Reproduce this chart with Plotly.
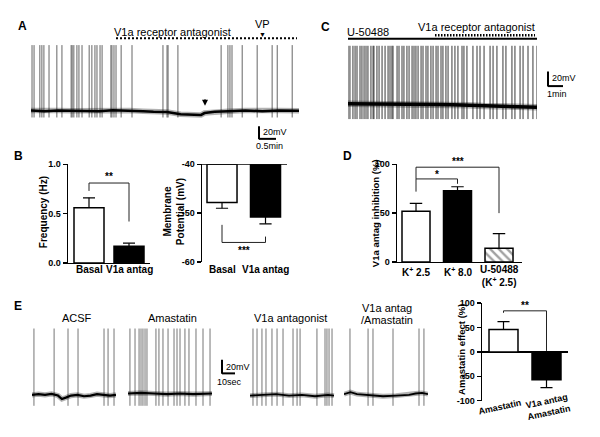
import plotly.graph_objects as go

W, H = 600, 437
def PX(x): return x / W
def PY(y): return 1 - y / H

FONT = "Liberation Sans, Arial, sans-serif"

# ---------------- data ----------------
# Panel A trace: spike times (min) and baseline (min, mV)
a_spike_times = [0.03, 0.09, 0.26, 0.32, 0.38, 0.53, 0.76, 0.91, 1.18, 1.21, 1.26, 1.35,
                 1.41, 1.50, 1.71, 1.79, 1.88, 1.94, 2.03, 2.09, 2.35, 2.38, 2.44, 2.50,
                 2.65, 2.97, 3.88, 4.00, 4.03, 4.32, 5.59, 5.79, 5.85, 5.91, 6.21, 6.65,
                 7.09, 7.24, 7.68]
a_spike_peak, a_spike_trough = 53, -61
a_base_t = [0, 0.4, 0.8, 1.2, 1.6, 2.0, 2.4, 2.9, 3.3, 3.6, 4.0, 4.4, 4.7, 5.0, 5.1,
            5.4, 5.8, 6.3, 6.8, 7.3, 7.88]
a_base_v = [-50, -51, -50, -50.5, -50, -51, -49.5, -50, -51, -52, -52.5, -56, -57, -57,
            -54, -52, -51, -50, -51, -50, -50.5]
a_duration = 7.88

# Panel C trace
c_spike_times = [0.0, 0.13, 0.33, 0.47, 0.6, 0.8, 0.93, 1.07, 1.2, 1.33, 1.53, 1.67, 1.73,
                 1.93, 2.07, 2.27, 2.47, 2.67, 2.8, 2.93, 3.0, 3.27, 3.4, 3.6, 3.73, 3.93,
                 4.07, 4.27, 4.4, 4.53, 4.67, 4.87, 5.0, 5.2, 5.33, 5.53, 5.67, 5.87, 6.0,
                 6.2, 6.33, 6.53, 6.67, 6.93, 7.13, 7.33, 7.6, 7.73, 7.93, 8.33, 8.6, 8.8,
                 9.07, 9.47, 9.67, 9.93, 10.33, 10.53, 10.93, 11.13, 11.47, 11.67, 12.0,
                 12.33, 12.6]
c_spike_peak, c_spike_trough = 29, -71
c_base_t = [0, 2, 4, 5, 6, 7, 8, 9, 10, 11, 12, 12.6]
c_base_v = [-50, -50, -50.5, -50.5, -51, -51.5, -52, -53, -54, -54.5, -55, -55]
c_duration = 12.6

# Panel E traces (s, mV)
e_duration = 64.6
e_spike_peak, e_spike_trough = 47, -66
e_acsf_spikes = [1.5, 17.0, 27.7, 35.4, 55.4, 58.5, 63.1]
e_acsf_t = [0, 5, 10, 15, 20, 23, 26, 30, 35, 40, 45, 50, 55, 60, 64.6]
e_acsf_v = [-50, -49, -50, -48.5, -51, -56, -54, -51, -50, -52, -51, -49, -50, -51, -50]
e_ama_spikes = [1.5, 5.4, 8.5, 10.0, 11.5, 13.1, 14.6, 21.5, 23.8, 26.9, 30.8, 35.4, 37.7,
                40.0, 43.8, 46.9, 52.3, 57.7, 63.1]
e_ama_t = [0, 10, 20, 30, 40, 50, 64.6]
e_ama_v = [-48, -47, -48, -49, -48, -49, -48]
e_v1a_spikes = [2.3, 5.4, 9.2, 12.3, 16.9, 20.8, 25.4, 33.1, 36.2, 38.5, 51.5, 57.7, 59.2,
                60.8, 63.1]
e_v1a_t = [0, 10, 20, 30, 40, 50, 60, 64.6]
e_v1a_v = [-51, -50, -49, -51, -50, -52, -50, -51]
e_both_spikes = [4.6, 18.5, 22.3, 37.7, 57.7, 61.5]
e_both_t = [0, 5, 10, 20, 30, 40, 50, 55, 60, 64.6]
e_both_v = [-49, -46, -49, -51, -52, -51, -50, -48, -47, -49]

# Panel B bars
b_labels = ["Basal", "V1a antag"]
b_freq = [0.56, 0.17]
b_freq_err = [0.10, 0.03]
b_vm = [-47.8, -50.8]
b_vm_err = [1.2, 1.4]

# Panel D bars
d_labels = ["K<sup>+</sup> 2.5", "K<sup>+</sup> 8.0", "U-50488<br>(K<sup>+</sup> 2.5)"]
d_vals = [52, 73, 14]
d_err = [8, 4, 15]

# Panel E bars
e_labels = ["Amastatin", "V1a antag<br>Amastatin"]
e_vals = [46, -57]
e_err = [16, 16]

# ---------------- helpers ----------------
def spike_xy(times, lo, hi):
    xs, ys = [], []
    for t in times:
        xs += [t, t, None]
        ys += [lo, hi, None]
    return xs, ys

fig = go.Figure()

def add_trace_panel(ax, spikes, lo, hi, bt, bv, spike_col, base_w):
    sx, sy = spike_xy(spikes, lo, hi)
    fig.add_trace(go.Scatter(x=sx, y=sy, mode="lines", xaxis="x" + ax, yaxis="y" + ax,
                             line=dict(color=spike_col, width=0.9), hoverinfo="skip"))
    fig.add_trace(go.Scatter(x=bt, y=bv, mode="lines", xaxis="x" + ax, yaxis="y" + ax,
                             line=dict(color="rgba(0,0,0,0.3)", width=base_w + 3),
                             hoverinfo="skip"))
    fig.add_trace(go.Scatter(x=bt, y=bv, mode="lines", xaxis="x" + ax, yaxis="y" + ax,
                             line=dict(color="black", width=base_w), hoverinfo="skip"))

add_trace_panel("", a_spike_times, a_spike_trough, a_spike_peak, a_base_t, a_base_v, "#555", 2.5)
add_trace_panel("2", c_spike_times, c_spike_trough, c_spike_peak, c_base_t, c_base_v, "#222", 3.5)
add_trace_panel("6", e_acsf_spikes, e_spike_trough, e_spike_peak, e_acsf_t, e_acsf_v, "#666", 2.2)
add_trace_panel("7", e_ama_spikes, e_spike_trough, e_spike_peak, e_ama_t, e_ama_v, "#666", 2.2)
add_trace_panel("8", e_v1a_spikes, e_spike_trough, e_spike_peak, e_v1a_t, e_v1a_v, "#666", 1.8)
add_trace_panel("9", e_both_spikes, e_spike_trough, e_spike_peak, e_both_t, e_both_v, "#666", 1.8)

def err_xy(centers, vals, errs, hw, bases=None):
    xs, ys = [], []
    for i, (c, v, e) in enumerate(zip(centers, vals, errs)):
        end = v + e if v >= (bases[i] if bases else 0) else v - e
        xs += [c, c, None, c - hw, c + hw, None]
        ys += [v, end, None, end, end, None]
    return xs, ys

# B left: frequency
bx = [1, 2]
fig.add_trace(go.Bar(x=bx, y=b_freq, width=0.75, xaxis="x3", yaxis="y3",
                     marker=dict(color=["white", "black"], line=dict(color="black", width=1.5))))
ex, ey = err_xy(bx, b_freq, b_freq_err, 0.15)
fig.add_trace(go.Scatter(x=ex, y=ey, mode="lines", xaxis="x3", yaxis="y3",
                         line=dict(color="black", width=1.2)))

# B right: membrane potential (bars hang from -40)
vm_base = -40
fig.add_trace(go.Bar(x=bx, y=[v - vm_base for v in b_vm], base=vm_base, width=0.69,
                     xaxis="x4", yaxis="y4",
                     marker=dict(color=["white", "black"], line=dict(color="black", width=1.5))))
ex, ey = err_xy(bx, b_vm, b_vm_err, 0.14, bases=[vm_base, vm_base])
fig.add_trace(go.Scatter(x=ex, y=ey, mode="lines", xaxis="x4", yaxis="y4",
                         line=dict(color="black", width=1.2)))

# D
dx = [1, 2, 3]
fig.add_trace(go.Bar(x=dx, y=d_vals, width=0.675, xaxis="x5", yaxis="y5",
                     marker=dict(color=["white", "black", "white"],
                                 line=dict(color="black", width=1.5),
                                 pattern=dict(shape=["", "", "\\"], fgcolor="black",
                                              bgcolor="white", size=6, solidity=0.4))))
ex, ey = err_xy(dx, d_vals, d_err, 0.15)
fig.add_trace(go.Scatter(x=ex, y=ey, mode="lines", xaxis="x5", yaxis="y5",
                         line=dict(color="black", width=1.2)))

# E bars
fig.add_trace(go.Bar(x=bx, y=e_vals, width=0.674, xaxis="x10", yaxis="y10",
                     marker=dict(color=["white", "black"], line=dict(color="black", width=1.5))))
ex, ey = err_xy(bx, e_vals, e_err, 0.14)
fig.add_trace(go.Scatter(x=ex, y=ey, mode="lines", xaxis="x10", yaxis="y10",
                         line=dict(color="black", width=1.2)))

# significance brackets (x in category units, y in data units)
def bracket(ax, xs, ys):
    fig.add_trace(go.Scatter(x=xs, y=ys, mode="lines", xaxis="x" + ax, yaxis="y" + ax,
                             line=dict(color="#222", width=1)))

bracket("3", [1, 1, 2, 2], [0.73, 0.81, 0.81, 0.42])
bracket("4", [1, 1, 2, 2], [-52.4, -56, -56, -54.8])
bracket("5", [1, 1, 2, 2], [72, 85, 85, 80])
bracket("5", [1, 1, 3, 3], [85, 97, 97, 50])
bracket("10", [1, 1, 2, 2], [80, 84, 84, 2])

# ---------------- layout ----------------
hidden = dict(visible=False, fixedrange=True)
layout = dict(width=W, height=H, margin=dict(l=0, r=0, t=0, b=0), autosize=False,
              paper_bgcolor="white", plot_bgcolor="rgba(0,0,0,0)", showlegend=False,
              font=dict(family=FONT, color="black"), bargap=0)

def trace_axes(n, x0, x1, y0, y1, xr, yr):
    sx = "" if n == 1 else str(n)
    layout["xaxis" + sx] = dict(hidden, domain=[PX(x0), PX(x1)], range=xr, anchor="y" + sx)
    layout["yaxis" + sx] = dict(hidden, domain=[PY(y1), PY(y0)], range=yr, anchor="x" + sx)

trace_axes(1, 31, 299, 35, 125, [0, a_duration], [-76.2, 62.3])
trace_axes(2, 348, 537, 38, 122, [0, c_duration], [-78, 34])
for n, (x0, x1) in zip([6, 7, 8, 9], [(32, 116), (128, 212), (250, 335), (344, 428)]):
    trace_axes(n, x0, x1, 326, 416, [0, (x1 - x0) * 10 / 13], [-74.3, 54.3])

tickfont = dict(family=FONT, size=9, weight="bold", color="black")
def bar_y(domain, rng, tv, tt):
    return dict(domain=domain, range=rng, tickvals=tv, ticktext=tt, showline=True,
                linewidth=1.5, linecolor="black", ticks="outside", ticklen=4, tickwidth=1.5,
                tickcolor="black", showgrid=False, zeroline=False, tickfont=tickfont,
                fixedrange=True)

def bar_x(domain, rng, line):
    return dict(domain=domain, range=rng, showline=line, linewidth=1.5, linecolor="black",
                showticklabels=False, ticks="", showgrid=False, zeroline=False, fixedrange=True)

layout["xaxis3"] = dict(bar_x([PX(68), PX(150)], [0.475, 2.525], True), anchor="y3")
layout["yaxis3"] = dict(bar_y([PY(264), PY(163)], [0, 1], [0, 0.5, 1], ["0.0", "0.5", "1.0"]), anchor="x3")
layout["xaxis4"] = dict(bar_x([PX(202), PX(287)], [0.54, 2.494], False), anchor="y4")
layout["yaxis4"] = dict(bar_y([PY(263), PY(163)], [-60, -40], [-60, -50, -40], ["-60", "-50", "-40"]), anchor="x4")
layout["xaxis5"] = dict(bar_x([PX(397), PX(522)], [0.542, 3.554], True), anchor="y5")
layout["yaxis5"] = dict(bar_y([PY(263), PY(163)], [0, 100], [0, 50, 100], ["0", "50", "100"]), anchor="x5")
layout["xaxis10"] = dict(bar_x([PX(482), PX(568)], [0.5, 2.5], False), anchor="y10")
layout["yaxis10"] = dict(bar_y([PY(405), PY(305)], [-100, 100], [-100, -50, 0, 50, 100],
                               ["-100", "-50", "0", "50", "100"]), anchor="x10")
layout["yaxis10"].update(zeroline=True, zerolinewidth=1.5, zerolinecolor="black")

shapes = []
def pline(x0, y0, x1, y1, w=2, dash="solid", color="black"):
    shapes.append(dict(type="line", xref="paper", yref="paper", x0=PX(x0), y0=PY(y0),
                       x1=PX(x1), y1=PY(y1), line=dict(color=color, width=w, dash=dash)))

# top line of B right axis (at -40)
shapes.append(dict(type="line", xref="x4 domain", yref="y4", x0=0, x1=1, y0=-40, y1=-40,
                   line=dict(color="black", width=1.5)))
# drug application bars
pline(116, 34, 297, 34, 2, "2px,2px")
pline(348, 34.5, 537, 34.5, 2)
pline(435, 31, 535, 31, 2.5, "1.5px,1.5px")
# scale bars
pline(259, 124, 259, 137.5, 2); pline(259, 137, 276, 137, 2)
pline(548, 68, 548, 83.5, 2); pline(548, 83, 563, 83, 2)
pline(222, 363, 222, 377.5, 2); pline(222, 377, 235, 377, 2)
layout["shapes"] = shapes

ann = []
def txt(x, y, s, size=11, bold=False, xanchor="center", angle=0, xref="paper", family=FONT):
    ann.append(dict(x=PX(x) if xref == "paper" else x, y=PY(y), xref=xref, yref="paper",
                    text=s, showarrow=False, xanchor=xanchor, yanchor="middle",
                    textangle=angle,
                    font=dict(family=family, size=size, color="black",
                              weight="bold" if bold else "normal")))

for L, x, y in [("A", 22, 22), ("B", 18, 155), ("C", 325, 23), ("D", 347, 155), ("E", 18, 308)]:
    txt(x, y, L, 12, True)
txt(172, 28, "V1a receptor antagonist", 11)
txt(262, 19, "VP", 11)
txt(262, 30, "▼", 7)
# small downward arrow in trace A
ann.append(dict(x=PX(205), y=PY(103), xref="paper", yref="paper", text="", showarrow=True,
                ax=0, ay=-8, arrowhead=2, arrowsize=1.2, arrowwidth=1, arrowcolor="black"))
txt(368, 28, "U-50488", 11)
txt(537, 23, "V1a receptor antagonist", 11, xanchor="right")
txt(261, 130, "20mV", 9, xanchor="left")
txt(269, 144, "0.5min", 9)
txt(550, 75, "20mV", 9, xanchor="left")
txt(557, 91, "1min", 9)
txt(224, 370, "20mV", 9, xanchor="left")
txt(229, 386, "10sec", 9)
txt(77, 320, "ACSF", 11)
txt(172, 320, "Amastatin", 11)
txt(290, 320, "V1a antagonist", 11)
txt(387, 310, "V1a antag", 11)
txt(387, 322, "/Amastatin", 11)

# axis titles
txt(43, 212, "Frequency (Hz)", 10, True, angle=-90)
txt(174, 212, "Membrane<br>Potential (mV)", 10, True, angle=-90)
txt(375, 213, "V1a antag inhibition (%)", 9.5, True, angle=-90)
txt(462, 353, "Amastatin effect (%)", 9.5, True, angle=-90)

# category labels
for i, lab in enumerate(b_labels):
    txt(bx[i], 271, lab, 10, True, xref="x3")
    txt(bx[i], 271, lab, 10, True, xref="x4")
for i, lab in enumerate(d_labels):
    y = 277.5 if "<br>" in lab else 273
    txt(dx[i], y, lab, 10, True, xref="x5")
txt(500, 411, e_labels[0], 9, True, angle=-12)
txt(548, 411, e_labels[1], 9, True, angle=-12)

# significance stars
def star(ax, x, y, s):
    ann.append(dict(x=x, y=y, xref="x" + ax, yref="y" + ax, text=s, showarrow=False,
                    xanchor="center", yanchor="middle",
                    font=dict(family=FONT, size=10, color="black", weight="bold")))
star("3", 1.5, 0.88, "**")
star("4", 1.5, -57.6, "***")
star("5", 1.5, 90, "*")
star("10", 1.5, 94, "**")
# the top star of D sits above the axis range, so place it on the paper
ann.append(dict(x=2.0, y=PY(160), xref="x5", yref="paper", text="***", showarrow=False,
                xanchor="center", yanchor="middle",
                font=dict(family=FONT, size=10, color="black", weight="bold")))

layout["annotations"] = ann
fig.update_layout(**layout)
fig.write_html("out.html", config={"displayModeBar": False, "staticPlot": True},
               post_script="document.body.style.margin='0';document.body.style.overflow='hidden';")
